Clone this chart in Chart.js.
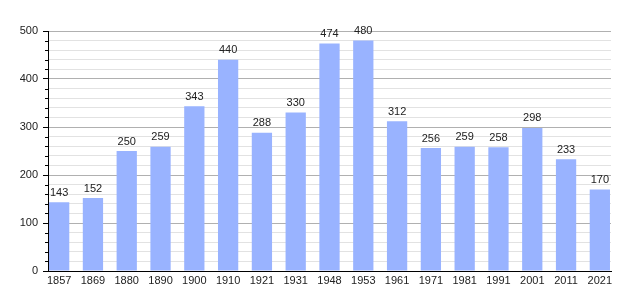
<!DOCTYPE html>
<html>
<head>
<meta charset="utf-8">
<style>
  html, body { margin: 0; padding: 0; background: #fff; }
  #wrap { width: 640px; height: 300px; position: relative; }
</style>
<script src="https://cdn.jsdelivr.net/npm/chart.js@4/dist/chart.umd.min.js"></script>
</head>
<body>
<div id="wrap"><canvas id="pop-chart"></canvas></div>
<script>
(function () {
  'use strict';

  var years = ['1857', '1869', '1880', '1890', '1900', '1910', '1921', '1931', '1948',
    '1953', '1961', '1971', '1981', '1991', '2001', '2011', '2021'];
  var population = [143, 152, 250, 259, 343, 440, 288, 330, 474, 480, 312, 256, 259, 258, 298, 233, 170];
  var yMax = 500;
  var yStep = 20;

  var points = population.map(function (v, i) { return { x: i, y: v }; });

  // value labels over each bar, short minor ticks on the y axis
  var barLabels = {
    id: 'barLabels',
    afterDatasetsDraw: function (chart) {
      var ctx = chart.ctx;
      var meta = chart.getDatasetMeta(0);
      var yScale = chart.scales.y;
      var left = chart.chartArea.left;
      ctx.save();
      ctx.strokeStyle = '#000';
      ctx.lineWidth = 1;
      for (var v = 0; v <= yMax; v += yStep) {
        if (v % 100 === 0) continue;
        var py = Math.round(yScale.getPixelForValue(v)) + 0.5;
        ctx.beginPath();
        ctx.moveTo(left - 3, py);
        ctx.lineTo(left, py);
        ctx.stroke();
      }
      ctx.font = '11px "Liberation Sans", Arial, sans-serif';
      ctx.fillStyle = '#222';
      ctx.textAlign = 'center';
      ctx.textBaseline = 'bottom';
      meta.data.forEach(function (bar, i) {
        ctx.fillText(String(population[i]), bar.x, bar.y - 4);
      });
      ctx.restore();
    }
  };

  new Chart(document.getElementById('pop-chart'), {
    type: 'bar',
    data: {
      datasets: [{
        data: points,
        backgroundColor: '#99b3ff',
        borderWidth: 0,
        barPercentage: 0.6,
        categoryPercentage: 1
      }]
    },
    options: {
      responsive: true,
      maintainAspectRatio: false,
      animation: false,
      layout: { padding: { top: 31, right: 29, left: 0, bottom: 0 } },
      plugins: {
        legend: { display: false },
        tooltip: { enabled: false }
      },
      scales: {
        x: {
          type: 'linear',
          offset: false,
          min: -0.33,
          max: 16.33,
          afterBuildTicks: function (axis) {
            axis.ticks = years.map(function (y, i) { return { value: i }; });
          },
          afterFit: function (axis) {
            axis.height = 29;
            axis.paddingLeft = 0;
            axis.paddingRight = 0;
          },
          grid: { display: false, drawTicks: false, offset: false },
          border: { display: true, color: '#000', width: 1 },
          ticks: {
            autoSkip: false,
            maxRotation: 0,
            padding: 3,
            color: '#222',
            font: { family: '"Liberation Sans", Arial, sans-serif', size: 11 },
            callback: function (val) { return years[val]; }
          }
        },
        y: {
          min: 0,
          max: yMax,
          afterFit: function (axis) { axis.width = 48; },
          grid: {
            color: function (c) { return c.tick && c.tick.value % 100 === 0 ? '#b0b0b0' : '#e2e2e2'; },
            tickColor: function (c) { return c.tick && c.tick.value % 100 === 0 ? '#000' : 'rgba(0,0,0,0)'; },
            tickLength: 5
          },
          border: { display: true, color: '#000', width: 1 },
          ticks: {
            stepSize: yStep,
            autoSkip: false,
            padding: 5,
            color: '#222',
            font: { family: '"Liberation Sans", Arial, sans-serif', size: 11 },
            callback: function (val) { return val % 100 === 0 ? val : ''; }
          }
        }
      }
    },
    plugins: [barLabels]
  });
})();
</script>
</body>
</html>
